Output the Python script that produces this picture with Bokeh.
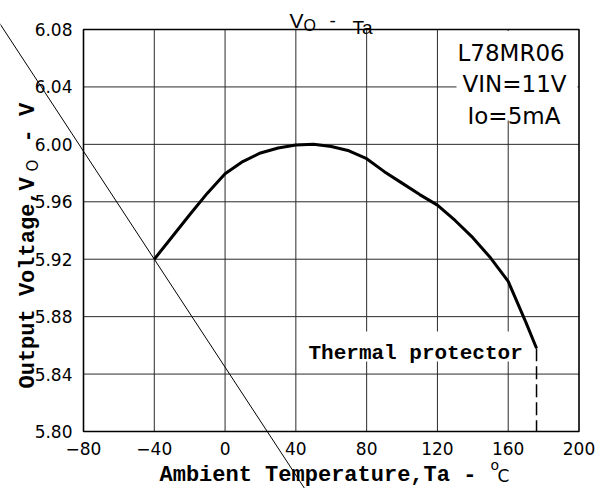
import math
from bokeh.plotting import figure
from bokeh.models import Range1d
from bokeh.core.properties import value
from bokeh.embed import file_html
from bokeh.resources import INLINE

# ---- data ----
temp_c = [-40, -30, -20, -10, 0, 10, 20, 30, 40, 50, 60, 70, 80, 90, 100,
          110, 120, 130, 140, 150, 160, 170, 176]
vout_v = [5.920, 5.9355, 5.951, 5.966, 5.9795, 5.988, 5.994, 5.9975, 5.9995,
          6.000, 5.9985, 5.9955, 5.990, 5.981, 5.973, 5.965, 5.9577, 5.947,
          5.935, 5.921, 5.9045, 5.876, 5.858]

protector_t = [176, 176]
protector_v = [5.858, 5.800]

diag_t = [-135, 65]
diag_v = [6.0986, 5.7226]

x_ticks = [-80, -40, 0, 40, 80, 120, 160, 200]
x_tick_labels = ["\u221280", "\u221240", "0", "40", "80", "120", "160", "200"]
y_ticks = [5.80, 5.84, 5.88, 5.92, 5.96, 6.00, 6.04, 6.08]
y_tick_labels = ["5.80", "5.84", "5.88", "5.92", "5.96", "6.00", "6.04", "6.08"]

conditions = ["L78MR06", "VIN=11V", "Io=5mA"]

# ---- layout: whole canvas is the drawing frame, so text outside the
#      plot box is not clipped ----
W, H = 601, 488
X_LO, X_HI = x_ticks[0], x_ticks[-1]
Y_LO, Y_HI = y_ticks[0], y_ticks[-1]
BOX_L, BOX_R, BOX_T, BOX_B = 83.0, 578.5, 29.0, 431.0   # canvas pixels
sx = (BOX_R - BOX_L) / (X_HI - X_LO)
sy = (BOX_B - BOX_T) / (Y_HI - Y_LO)
x_start = X_LO - BOX_L / sx
x_end = x_start + W / sx
y_end = Y_HI + BOX_T / sy
y_start = y_end - H / sy


def dx(px):
    return x_start + px / sx


def dy(py):
    return y_end - py / sy


p = figure(width=W, height=H, output_backend="svg", toolbar_location=None,
           x_range=Range1d(x_start, x_end), y_range=Range1d(y_start, y_end),
           x_axis_location=None, y_axis_location=None, min_border=0)
p.background_fill_color = "white"
p.border_fill_color = "white"
p.outline_line_color = None
p.grid.visible = False

GRID = "#2a2a2a"
# grid
p.segment(x0=x_ticks[1:-1], y0=[Y_LO] * (len(x_ticks) - 2),
          x1=x_ticks[1:-1], y1=[Y_HI] * (len(x_ticks) - 2),
          line_color=GRID, line_width=1)
p.segment(x0=[X_LO] * (len(y_ticks) - 2), y0=y_ticks[1:-1],
          x1=[X_HI] * (len(y_ticks) - 2), y1=y_ticks[1:-1],
          line_color=GRID, line_width=1)

# white areas behind the conditions block and the protector note
p.quad(left=[dx(456)], right=[dx(577)], top=[dy(30.5)], bottom=[dy(120)],
       fill_color="white", line_color=None)
p.quad(left=[dx(302)], right=[dx(531)], top=[dy(331)], bottom=[dy(361)],
       fill_color="white", line_color=None)

# plot box
p.quad(left=[X_LO], right=[X_HI], bottom=[Y_LO], top=[Y_HI],
       fill_color=None, line_color="black", line_width=1.6)

# curve and thermal-protector drop
p.line(temp_c, vout_v, line_color="black", line_width=3)
p.line(protector_t, protector_v, line_color="black", line_width=1.5,
       line_dash="13 5")

# tick labels
p.text(x=x_ticks, y=[dy(441)] * len(x_ticks), text=x_tick_labels,
       text_align="center", text_baseline="top",
       text_font=value("DejaVu Sans"), text_font_size="17px",
       text_color="black")
p.text(x=[dx(72)] * len(y_ticks), y=y_ticks, text=y_tick_labels,
       text_align="right", text_baseline="middle",
       text_font=value("DejaVu Sans"), text_font_size="17px",
       text_color="black")

# conditions
p.text(x=[dx(457), dx(462), dx(467)], y=[dy(52), dy(83), dy(115)],
       text=conditions, text_align="left", text_baseline="alphabetic",
       text_font=value("DejaVu Sans"), text_font_size="23px",
       text_color="black")

# note
p.text(x=[dx(308)], y=[dy(353)], text=["Thermal protector"],
       text_align="left", text_baseline="alphabetic",
       text_font=value("Liberation Mono"), text_font_style="bold",
       text_font_size="21px", text_color="black")

# title  V_O - Ta
p.text(x=[dx(289)], y=[dy(20)], text=["V"], text_baseline="alphabetic",
       text_font=value("Liberation Sans"), text_font_size="21px")
p.text(x=[dx(303)], y=[dy(25)], text=["O"], text_baseline="alphabetic",
       text_font=value("Liberation Sans"), text_font_size="16px")
p.text(x=[dx(329)], y=[dy(20)], text=["-"], text_baseline="alphabetic",
       text_font=value("Liberation Sans"), text_font_size="19px")
p.text(x=[dx(352)], y=[dy(27)], text=["Ta"], text_baseline="alphabetic",
       text_font=value("Liberation Sans"), text_font_size="19px")

# x axis title
p.text(x=[dx(159)], y=[dy(475)], text=["Ambient Temperature,Ta - "],
       text_baseline="alphabetic", text_font=value("Liberation Mono"),
       text_font_style="bold", text_font_size="22px")
p.text(x=[dx(490)], y=[dy(464)], text=["o"], text_baseline="alphabetic",
       text_font=value("DejaVu Sans"), text_font_size="14px")
p.text(x=[dx(497)], y=[dy(475)], text=["C"], text_baseline="alphabetic",
       text_font=value("DejaVu Sans"), text_font_size="17px")

# y axis title (rotated)
ang = math.pi / 2
p.text(x=[dx(28)], y=[dy(388)], text=["Output Voltage,V"], angle=ang,
       text_baseline="alphabetic", text_font=value("Liberation Mono"),
       text_font_style="bold", text_font_size="22px")
p.text(x=[dx(32)], y=[dy(171)], text=["O"], angle=ang,
       text_baseline="alphabetic", text_font=value("DejaVu Sans"),
       text_font_size="15px")
p.text(x=[dx(28)], y=[dy(142)], text=["- V"], angle=ang,
       text_baseline="alphabetic", text_font=value("Liberation Mono"),
       text_font_style="bold", text_font_size="22px")

# stray diagonal stroke of the scanned sheet
p.line(diag_t, diag_v, line_color="black", line_width=1)

open("out.html", "w").write(file_html(p, INLINE))
